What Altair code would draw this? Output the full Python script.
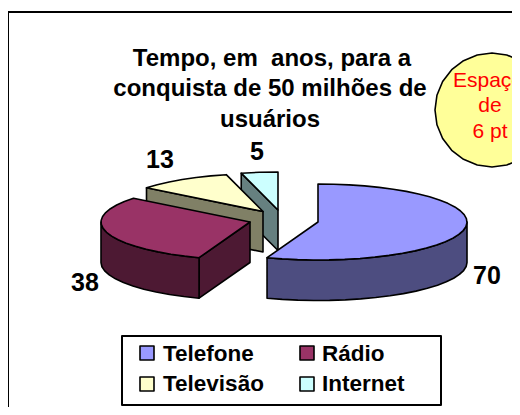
import numpy as np
import pandas as pd
import altair as alt

categories = ["Telefone", "Rádio", "Televisão", "Internet"]
years = [70, 38, 13, 5]
top_colors = ["#9999FF", "#993366", "#FFFFCC", "#CCFFFF"]
wall_colors = ["#4D4D80", "#4D1933", "#808066", "#668080"]
title_lines = ["Tempo, em \u00a0anos, para a", "conquista de 50 milhões de", "usuários"]
note_lines = ["Espaço", "de", "6 pt"]

W, H = 504, 399
RX, RY, DEPTH = 149, 38, 40.5
centers = {"Telefone": (318, 222), "Rádio": (250, 222), "Televisão": (263, 211.5), "Internet": (278, 210)}

X = alt.X("x:Q", scale=alt.Scale(domain=[8, 8 + W], nice=False, zero=False), axis=None)
Y = alt.Y("y:Q", scale=alt.Scale(domain=[8 + H, 8], nice=False, zero=False), axis=None)


def pt(c, a, dz=0):
    r = np.radians(a)
    return (c[0] + RX * np.sin(r), c[1] - RY * np.cos(r) + dz)


def arc(c, a0, a1, dz=0):
    n = max(2, int(abs(a1 - a0) / 6) + 1)
    return [pt(c, a, dz) for a in np.linspace(a0, a1, n)]


def poly(points, fill, sw=1.6):
    df = pd.DataFrame(points, columns=["x", "y"])
    df["i"] = range(len(df))
    return alt.Chart(df).mark_line(interpolate="linear-closed", fill=fill, stroke="black",
                                   strokeWidth=sw, clip=True, strokeJoin="round").encode(
        x=X, y=Y, order="i:Q")


def text(rows, size, color="black", bold=True, clip=False):
    df = pd.DataFrame(rows, columns=["x", "y", "t"])
    return alt.Chart(df).mark_text(font="Liberation Sans", fontSize=size, color=color,
                                   fontWeight="bold" if bold else "normal", baseline="alphabetic",
                                   clip=clip).encode(x=X, y=Y, text="t:N")


# slice angles from the values, clockwise from north
total = sum(years)
edges = np.cumsum([0] + years) / total * 360
ang = {c: (edges[i], edges[i + 1]) for i, c in enumerate(categories)}
col = dict(zip(categories, top_colors))
wal = dict(zip(categories, wall_colors))

layers = []

# frame
frame = pd.DataFrame({"x": [8, 8, 530], "y": [430, 12, 12]})
frame["i"] = range(3)
layers.append(alt.Chart(frame).mark_line(color="black", strokeWidth=2, clip=True).encode(x=X, y=Y, order="i:Q"))

# Internet
c = centers["Internet"]; a0, a1 = ang["Internet"]
s = pt(c, a0)
layers.append(poly([s, c, (c[0], c[1] + DEPTH), (s[0], s[1] + DEPTH)], wal["Internet"]))
layers.append(poly([c] + arc(c, a0, a1), col["Internet"]))

# Televisão
c = centers["Televisão"]; a0, a1 = ang["Televisão"]
s = pt(c, a0)
layers.append(poly([s, c, (c[0], c[1] + DEPTH), (s[0], s[1] + DEPTH)], wal["Televisão"]))
layers.append(poly([c] + arc(c, a0, a1), col["Televisão"]))

# Rádio
c = centers["Rádio"]; a0, a1 = ang["Rádio"]
s = pt(c, a0)
layers.append(poly([c, s, (s[0], s[1] + DEPTH), (c[0], c[1] + DEPTH)], wal["Rádio"]))
layers.append(poly(arc(c, a0, 270) + arc(c, 270, a0, DEPTH), wal["Rádio"]))
layers.append(poly([c] + arc(c, a0, a1), col["Rádio"]))

# Telefone
c = centers["Telefone"]; a0, a1 = ang["Telefone"]
layers.append(poly(arc(c, 90, a1) + arc(c, a1, 90, DEPTH), wal["Telefone"]))
layers.append(poly([c] + arc(c, a0, a1), col["Telefone"]))

# texts
layers.append(text([(272, 66, title_lines[0]), (270, 96, title_lines[1]), (270, 127, title_lines[2])], 24))
layers.append(text([(487, 284, str(years[0])), (85, 291, str(years[1])), (160, 168, str(years[2])), (257, 160, str(years[3]))], 25))

# note badge
sun_c = (492, 110)
sun = [(sun_c[0] + 57 * np.sin(a), sun_c[1] - 57 * np.cos(a)) for a in np.linspace(0, 2 * np.pi, 24, endpoint=False)]
layers.append(poly(sun, "#FFFF99"))
layers.append(text([(488, 87, note_lines[0]), (490, 112, note_lines[1]), (490, 138, note_lines[2])], 21, color="red", bold=False, clip=True))

# legend
layers.append(poly([(122, 336), (441, 336), (441, 405), (122, 405)], "white", sw=2))
swatches = [(140, 346), (300, 346), (140, 377), (300, 377)]
for (sx, sy), name in zip(swatches, categories):
    layers.append(poly([(sx, sy), (sx + 14, sy), (sx + 14, sy + 14), (sx, sy + 14)], col[name], sw=1.6))
ldf = pd.DataFrame({"x": [163, 322, 163, 322], "y": [361, 361, 391, 391], "t": categories})
layers.append(alt.Chart(ldf).mark_text(font="Liberation Sans", fontSize=22.5, fontWeight="bold", align="left",
                                       baseline="alphabetic", color="black").encode(x=X, y=Y, text="t:N"))

chart = alt.layer(*layers).properties(width=W, height=H, padding=0, background="white",
                                      autosize=alt.AutoSizeParams(type="none")).configure_view(stroke=None)
chart.save("out.html", embed_options={"renderer": "svg", "actions": False})
